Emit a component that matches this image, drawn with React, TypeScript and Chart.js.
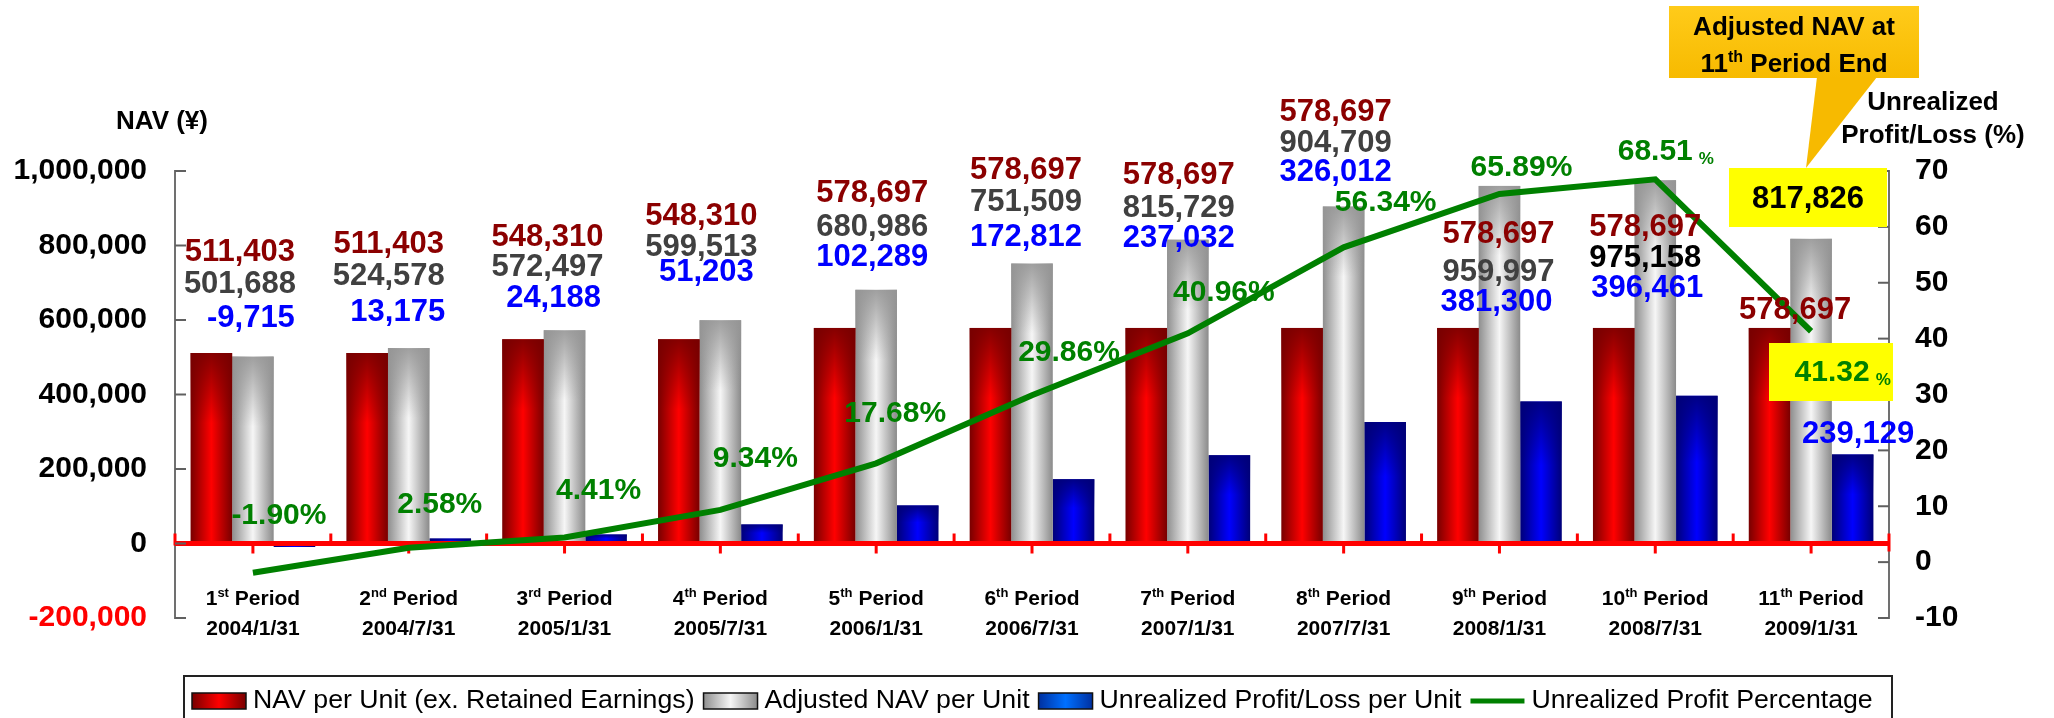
import React, { useEffect, useRef } from 'react';
import { Chart, registerables } from 'chart.js';

Chart.register(...registerables);

const FONT = "'Liberation Sans', Arial, Helvetica, sans-serif";

// ---------------- data ----------------
const periodNumbers = ['1', '2', '3', '4', '5', '6', '7', '8', '9', '10', '11'];
const periodSuffixes = ['st', 'nd', 'rd', 'th', 'th', 'th', 'th', 'th', 'th', 'th', 'th'];
const periodDates = ['2004/1/31', '2004/7/31', '2005/1/31', '2005/7/31', '2006/1/31', '2006/7/31', '2007/1/31', '2007/7/31', '2008/1/31', '2008/7/31', '2009/1/31'];
const navPerUnit = [511403, 511403, 548310, 548310, 578697, 578697, 578697, 578697, 578697, 578697, 578697];
const adjustedNav = [501688, 524578, 572497, 599513, 680986, 751509, 815729, 904709, 959997, 975158, 817826];
const unrealizedPL = [-9715, 13175, 24188, 51203, 102289, 172812, 237032, 326012, 381300, 396461, 239129];
const unrealizedPct = [-1.90, 2.58, 4.41, 9.34, 17.68, 29.86, 40.96, 56.34, 65.89, 68.51, 41.32];

const seriesNames = ['NAV per Unit (ex. Retained Earnings)', 'Adjusted NAV per Unit', 'Unrealized Profit/Loss per Unit', 'Unrealized Profit Percentage'];
const leftAxis = { min: -200000, max: 1000000, step: 200000 };
const rightAxis = { min: -10, max: 70, step: 10 };

// ---------------- label layout (annotation placement, pixels) ----------------
const valueLabelDX = [-13, -20, -17, -19, -4, -6, -9, -8, -1, -10, -16];
const blueLabelDX = [-2, -11, -11, -14, -4, -6, -9, -8, -3, -8, 47];
const valueLabelY: (number | null)[][] = [
  [252, 284, 318], [244, 276, 312], [237, 267, 298], [216, 247, 272], [193, 227, 257],
  [170, 202, 237], [175, 208, 238], [112, 143, 172], [234, 272, 302], [227, 258, 288], [310, null, 434],
];
const adjustedLabelColor = ['#404040', '#404040', '#404040', '#404040', '#404040', '#404040', '#404040', '#404040', '#404040', '#000000', '#404040'];
const pctLabelOffset = [[26, -57], [31, -43], [34, -47], [35, -51], [19, -50], [37, -43], [36, -41], [42, -45], [22, -26], [0, -28], [21, 41]];
const smallPercent = [false, false, false, false, false, false, false, false, false, true, true];

const COLORS = {
  red: ['#780000', '#ff0000', '#780000'],
  gray: ['#8e8e8e', '#f6f6f6', '#8a8a8a'],
  blue: ['#000078', '#0000ff', '#000078'],
  topShade: ['rgba(120,0,0,', 'rgba(150,150,150,', 'rgba(0,0,120,'],
  green: '#008000',
  redText: '#8B0000',
  grayText: '#404040',
  blueText: '#0000FF',
};

const fmt = (v: number) => v.toLocaleString('en-US');

function barGradient(stops: string[], k: number) {
  return (c: any) => {
    const chart = c.chart;
    const xs = chart.scales?.x;
    if (c.type !== 'data' || !xs || !chart.chartArea) return stops[1];
    const n = periodNumbers.length;
    const catW = (xs.right - xs.left) / n;
    const barW = (catW * 0.8) / 3;
    const cx = xs.getPixelForValue(c.dataIndex);
    const left = cx - 1.5 * barW + k * barW;
    const g = chart.ctx.createLinearGradient(left, 0, left + barW, 0);
    g.addColorStop(0, stops[0]);
    g.addColorStop(0.5, stops[1]);
    g.addColorStop(1, stops[2]);
    return g;
  };
}

function drawOrdinal(ctx: CanvasRenderingContext2D, num: string, suf: string, rest: string, cx: number, cy: number, size: number) {
  const big = `bold ${size}px ${FONT}`;
  const small = `bold ${Math.round(size * 0.62)}px ${FONT}`;
  ctx.font = big;
  const w1 = ctx.measureText(num).width;
  const w3 = ctx.measureText(rest).width;
  ctx.font = small;
  const w2 = ctx.measureText(suf).width;
  const total = w1 + w2 + w3;
  let x = cx - total / 2;
  ctx.textAlign = 'left';
  ctx.textBaseline = 'alphabetic';
  const base = cy + size * 0.36;
  ctx.font = big;
  ctx.fillText(num, x, base);
  x += w1;
  ctx.font = small;
  ctx.fillText(suf, x, base - size * 0.38);
  x += w2;
  ctx.font = big;
  ctx.fillText(rest, x, base);
}

const decorPlugin = {
  id: 'decor',
  afterDatasetDraw(chart: any, args: any) {
    if (args.index > 2) return;
    const { ctx } = chart;
    const meta = chart.getDatasetMeta(args.index);
    ctx.save();
    meta.data.forEach((el: any) => {
      const p = el.getProps(['x', 'y', 'base', 'width'], true);
      const h = p.base - p.y;
      if (h <= 2) return;
      const sh = Math.min(70, h * 0.45);
      const g = ctx.createLinearGradient(0, p.y, 0, p.y + sh);
      g.addColorStop(0, COLORS.topShade[args.index] + '0.9)');
      g.addColorStop(1, COLORS.topShade[args.index] + '0)');
      ctx.fillStyle = g;
      ctx.fillRect(p.x - p.width / 2, p.y, p.width, sh);
    });
    ctx.restore();
  },
  beforeDatasetDraw(chart: any, args: any) {
    if (args.index !== 3) return;
    const { ctx, scales, chartArea } = chart;
    const xs = scales.x;
    const y0 = scales.y.getPixelForValue(0);
    const n = periodNumbers.length;
    const catW = (xs.right - xs.left) / n;
    ctx.save();
    ctx.strokeStyle = '#FF0000';
    ctx.lineWidth = 5;
    ctx.beginPath();
    ctx.moveTo(chartArea.left, y0);
    ctx.lineTo(chartArea.right, y0);
    ctx.stroke();
    ctx.lineWidth = 3;
    for (let i = 0; i <= n; i++) {
      const xb = xs.getPixelForValue(0) - catW / 2 + i * catW;
      ctx.beginPath();
      ctx.moveTo(xb, y0 - 10);
      ctx.lineTo(xb, y0 + (i === n ? 8 : 2));
      ctx.stroke();
    }
    for (let i = 0; i < n; i++) {
      const xc = xs.getPixelForValue(i);
      ctx.beginPath();
      ctx.moveTo(xc, y0);
      ctx.lineTo(xc, y0 + 10);
      ctx.stroke();
    }
    ctx.restore();
  },
  afterDatasetsDraw(chart: any) {
    const { ctx, scales, chartArea } = chart;
    const xs = scales.x;
    const ys = scales.y;
    const y1 = scales.y1;
    const n = periodNumbers.length;
    ctx.save();

    // inward axis ticks
    ctx.strokeStyle = '#606060';
    ctx.lineWidth = 2;
    ys.ticks.forEach((t: any) => {
      const y = ys.getPixelForValue(t.value);
      ctx.beginPath();
      ctx.moveTo(chartArea.left, y);
      ctx.lineTo(chartArea.left + 11, y);
      ctx.stroke();
    });
    y1.ticks.forEach((t: any) => {
      const y = y1.getPixelForValue(t.value);
      ctx.beginPath();
      ctx.moveTo(chartArea.right - 11, y);
      ctx.lineTo(chartArea.right, y);
      ctx.stroke();
    });

    // x category labels
    const y0 = ys.getPixelForValue(0);
    ctx.fillStyle = '#000';
    for (let i = 0; i < n; i++) {
      const xc = xs.getPixelForValue(i);
      drawOrdinal(ctx, periodNumbers[i], periodSuffixes[i], ' Period', xc, y0 + 54, 21);
      ctx.font = `bold 21px ${FONT}`;
      ctx.textAlign = 'center';
      ctx.textBaseline = 'middle';
      ctx.fillText(periodDates[i], xc, y0 + 86);
    }

    // value labels
    ctx.font = `bold 31px ${FONT}`;
    ctx.textAlign = 'center';
    ctx.textBaseline = 'middle';
    for (let i = 0; i < n; i++) {
      const xc = xs.getPixelForValue(i);
      const [ry, gy, by] = valueLabelY[i];
      if (ry != null) {
        ctx.fillStyle = COLORS.redText;
        ctx.fillText(fmt(navPerUnit[i]), xc + valueLabelDX[i], ry);
      }
      if (gy != null) {
        ctx.fillStyle = adjustedLabelColor[i];
        ctx.fillText(fmt(adjustedNav[i]), xc + valueLabelDX[i], gy);
      }
      if (by != null) {
        ctx.fillStyle = COLORS.blueText;
        ctx.fillText(fmt(unrealizedPL[i]), xc + blueLabelDX[i], by);
      }
    }

    // callout for last adjusted NAV + last percentage box
    const last = n - 1;
    const og = ctx.createLinearGradient(0, 6, 0, 78);
    og.addColorStop(0, '#FFCB1A');
    og.addColorStop(1, '#F7BA00');
    ctx.fillStyle = og;
    ctx.fillRect(1669, 6, 250, 72);
    ctx.beginPath();
    ctx.moveTo(1817, 77);
    ctx.lineTo(1877, 77);
    ctx.lineTo(1806, 168);
    ctx.closePath();
    ctx.fill();
    ctx.fillStyle = '#000';
    ctx.font = `bold 26px ${FONT}`;
    ctx.textAlign = 'center';
    ctx.textBaseline = 'middle';
    ctx.fillText('Adjusted NAV at', 1794, 28);
    drawOrdinal(ctx, '11', 'th', ' Period End', 1794, 63, 26);

    ctx.fillStyle = '#FFFF00';
    ctx.fillRect(1729, 168, 158, 59);
    ctx.fillStyle = '#000';
    ctx.font = `bold 31px ${FONT}`;
    ctx.textAlign = 'center';
    ctx.textBaseline = 'middle';
    ctx.fillText(fmt(adjustedNav[last]), 1808, 199);

    ctx.fillStyle = '#FFFF00';
    ctx.fillRect(1769, 343, 124, 58);

    // percentage labels
    for (let i = 0; i < n; i++) {
      const px = xs.getPixelForValue(i);
      const py = y1.getPixelForValue(unrealizedPct[i]);
      const [dx, dy] = pctLabelOffset[i];
      const txt = unrealizedPct[i].toFixed(2);
      ctx.fillStyle = COLORS.green;
      ctx.textBaseline = 'middle';
      if (smallPercent[i]) {
        ctx.font = `bold 30px ${FONT}`;
        ctx.textAlign = 'center';
        ctx.fillText(txt, px + dx, py + dy);
        const w = ctx.measureText(txt).width;
        ctx.font = `bold 17px ${FONT}`;
        ctx.textAlign = 'left';
        ctx.fillText('%', px + dx + w / 2 + 6, py + dy + 8);
      } else {
        ctx.font = `bold 30px ${FONT}`;
        ctx.textAlign = 'center';
        ctx.fillText(txt + '%', px + dx, py + dy);
      }
    }

    // axis titles
    ctx.fillStyle = '#000';
    ctx.font = `bold 26px ${FONT}`;
    ctx.textAlign = 'center';
    ctx.textBaseline = 'middle';
    ctx.fillText('NAV (¥)', 162, 122);
    ctx.fillText('Unrealized', 1933, 103);
    ctx.fillText('Profit/Loss (%)', 1933, 136);

    // legend
    ctx.strokeStyle = '#222';
    ctx.lineWidth = 2;
    ctx.strokeRect(184, 676, 1708, 70);
    ctx.font = `26.7px ${FONT}`;
    ctx.textAlign = 'left';
    ctx.textBaseline = 'middle';
    const ly = 701;
    let lx = 192;
    const swatches = [COLORS.red, COLORS.gray, ['#0030a0', '#0070ff', '#0030a0']];
    seriesNames.forEach((name, k) => {
      if (k < 3) {
        const g = ctx.createLinearGradient(lx, 0, lx + 54, 0);
        g.addColorStop(0, swatches[k][0]);
        g.addColorStop(0.5, swatches[k][1]);
        g.addColorStop(1, swatches[k][2]);
        ctx.fillStyle = g;
        ctx.fillRect(lx, ly - 8, 54, 16);
        ctx.strokeStyle = '#111';
        ctx.lineWidth = 1.5;
        ctx.strokeRect(lx, ly - 8, 54, 16);
      } else {
        ctx.strokeStyle = COLORS.green;
        ctx.lineWidth = 5;
        ctx.beginPath();
        ctx.moveTo(lx, ly);
        ctx.lineTo(lx + 54, ly);
        ctx.stroke();
      }
      lx += 61;
      ctx.fillStyle = '#000';
      ctx.fillText(name, lx, ly);
      lx += ctx.measureText(name).width + 9;
    });

    ctx.restore();
  },
};

export default function App() {
  const ref = useRef<HTMLCanvasElement | null>(null);
  useEffect(() => {
    if (!ref.current) return;
    const chart = new Chart(ref.current, {
      type: 'bar',
      data: {
        labels: periodDates,
        datasets: [
          { label: seriesNames[0], data: navPerUnit, backgroundColor: barGradient(COLORS.red, 0), yAxisID: 'y', order: 1, categoryPercentage: 0.8, barPercentage: 1.0, borderWidth: 0 },
          { label: seriesNames[1], data: adjustedNav, backgroundColor: barGradient(COLORS.gray, 1), yAxisID: 'y', order: 1, categoryPercentage: 0.8, barPercentage: 1.0, borderWidth: 0 },
          { label: seriesNames[2], data: unrealizedPL, backgroundColor: barGradient(COLORS.blue, 2), yAxisID: 'y', order: 1, categoryPercentage: 0.8, barPercentage: 1.0, borderWidth: 0 },
          { type: 'line', label: seriesNames[3], data: unrealizedPct, borderColor: COLORS.green, backgroundColor: COLORS.green, borderWidth: 6, pointRadius: 0, tension: 0, yAxisID: 'y1', order: 0 } as any,
        ],
      },
      options: {
        responsive: false,
        animation: false,
        devicePixelRatio: 1,
        layout: { padding: { top: 171, bottom: 100, left: 0, right: 0 } },
        plugins: { legend: { display: false }, tooltip: { enabled: false } },
        scales: {
          x: { display: false, type: 'category' },
          y: {
            position: 'left',
            min: leftAxis.min,
            max: leftAxis.max,
            grid: { display: false, drawTicks: false },
            border: { display: true, color: '#707070', width: 2 },
            ticks: {
              stepSize: leftAxis.step,
              padding: 28,
              font: { family: FONT, size: 30, weight: 'bold' },
              color: (c: any) => (c.tick && c.tick.value < 0 ? '#FF0000' : '#000000'),
              callback: (v: any) => fmt(Number(v)),
            },
            afterFit: (s: any) => { s.width = 175; },
          },
          y1: {
            position: 'right',
            min: rightAxis.min,
            max: rightAxis.max,
            grid: { display: false, drawTicks: false },
            border: { display: true, color: '#707070', width: 2 },
            ticks: {
              stepSize: rightAxis.step,
              padding: 26,
              font: { family: FONT, size: 30, weight: 'bold' },
              color: '#000000',
            },
            afterFit: (s: any) => { s.width = 165; },
          },
        } as any,
      },
      plugins: [decorPlugin],
    });
    return () => chart.destroy();
  }, []);
  return (
    <div style={{ position: 'fixed', left: 0, top: 0, width: 2054, height: 718, background: '#fff' }}>
      <canvas ref={ref} width={2054} height={718} style={{ display: 'block' }} />
    </div>
  );
}
